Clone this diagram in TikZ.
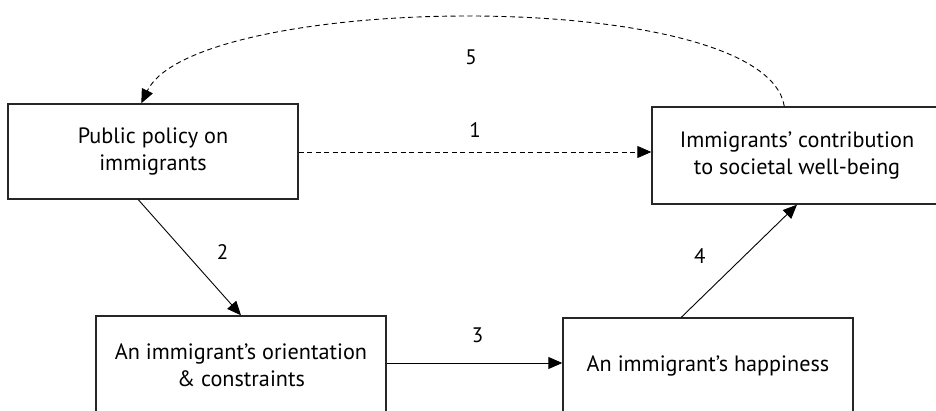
\documentclass[tikz,border=0pt]{standalone}
\usepackage{fontspec}
\setmainfont{PT Sans}
\usetikzlibrary{arrows.meta,calc}
\begin{document}
\begin{tikzpicture}[x=1pt,y=-1pt,
  box/.style={draw=black!85,line width=1.4pt,rectangle,align=center,
    inner sep=0pt,font=\fontsize{22.2}{26.5}\selectfont},
  link/.style={line width=0.9pt,-{Triangle[length=14pt,width=12pt]}},
  dlink/.style={link,dash pattern=on 5pt off 3.5pt},
  num/.style={font=\fontsize{21}{24}\selectfont}]
\useasboundingbox (0,0) rectangle (936,411);
\clip (0,0) rectangle (936,411);
% boxes
\node[box,minimum width=290pt,minimum height=95pt] (policy) at (153,151.5)
  {Public policy on\\immigrants};
\node[box,minimum width=290pt,minimum height=97pt] (contrib) at (797,155.5)
  {Immigrants’ contribution\\to societal well-being};
\node[box,minimum width=290pt,minimum height=98pt] (orient) at (241,365)
  {An immigrant’s orientation\\\& constraints};
\node[box,minimum width=290pt,minimum height=96pt] (happy) at (708,366)
  {An immigrant’s happiness};
% connectors
\draw[dlink] (policy.east |- 0,152) -- (contrib.west |- 0,152)
  node[num,midway,yshift=22pt] {1};
\draw[link] ($(policy.south west)+(131,0)$) -- (orient.north)
  node[num,pos=0.45,xshift=38pt] {2};
\draw[link] (orient.east |- 0,363) -- (happy.west |- 0,363)
  node[num,midway,yshift=28pt,xshift=3pt] {3};
\draw[link] ($(happy.north west)+(119,0)$) -- (contrib.south)
  node[num,pos=0.54,xshift=-44pt] {4};
\coordinate (loopstart) at ($(contrib.north west)+(133,0)$);
\coordinate (loopend) at ($(policy.north west)+(134,0)$);
\draw[dlink] (loopstart) .. controls (765,-15) and (195,-8) .. (loopend);
\node[num] (five) at (471,57) {5};
\end{tikzpicture}
\end{document}
